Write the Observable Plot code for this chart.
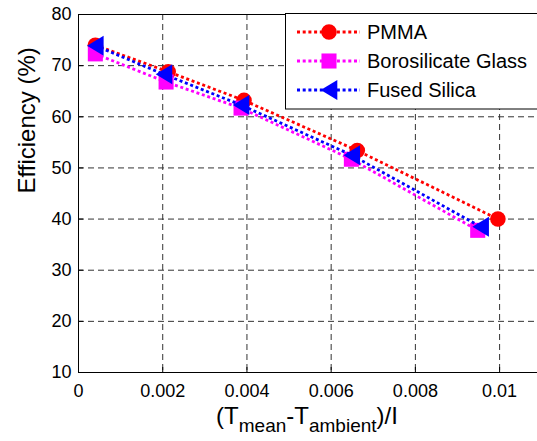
<!DOCTYPE html>
<html>
<head>
<meta charset="utf-8">
<script src="https://cdn.jsdelivr.net/npm/d3@7"></script>
<script src="https://cdn.jsdelivr.net/npm/@observablehq/plot@0.6"></script>
<style>
  html, body { margin: 0; padding: 0; background: white; }
  #chart { position: relative; width: 537px; height: 441px; }
  svg { font-family: "Liberation Sans", Arial, sans-serif; }
</style>
</head>
<body>
<div id="chart"></div>
<script>
// ---- data ----
const seriesNames = ["PMMA", "Borosilicate Glass", "Fused Silica"];
const seriesColors = ["#ff0000", "#ff00ff", "#0000ff"];

const pmmaX  = [0.0004, 0.00213, 0.00393, 0.00662, 0.00996];
const pmmaY  = [74.0, 68.8, 63.2, 53.4, 40.0];
const boroX  = [0.0004, 0.00208, 0.00386, 0.00648, 0.00948];
const boroY  = [72.3, 66.8, 61.7, 51.7, 37.8];
const fusedX = [0.0004, 0.00203, 0.00386, 0.00649, 0.00955];
const fusedY = [73.9, 68.3, 62.3, 52.5, 38.5];

const xTicks = [0, 0.002, 0.004, 0.006, 0.008, 0.01];
const xTickLabels = ["0", "0.002", "0.004", "0.006", "0.008", "0.01"];
const yTicks = [10, 20, 30, 40, 50, 60, 70, 80];
const xGrid = [0.002, 0.004, 0.006, 0.008, 0.01];
const yGrid = [20, 30, 40, 50, 60, 70];

const yLabel = "Efficiency (%)";

// ---- layout ----
const W = 537, H = 441;
const mL = 78, mR = 0, mT = 14, mB = 69;
const innerW = W - mL - mR, innerH = H - mT - mB;

// left-pointing triangle symbol (MATLAB '<')
const triangleLeft = {
  draw(ctx, size) {
    const r = Math.sqrt(size / Math.PI);
    const w = 1.95 * r, h = 2.35 * r;
    ctx.moveTo(-w / 2, 0);
    ctx.lineTo(w / 2, -h / 2);
    ctx.lineTo(w / 2, h / 2);
    ctx.closePath();
  }
};
const symbols = ["circle", "square", triangleLeft];
const radii = [7.8, 8.5, 8.5];

const toRows = (xs, ys) => xs.map((v, i) => ({x: v, y: ys[i]}));
const seriesRows = [toRows(pmmaX, pmmaY), toRows(boroX, boroY), toRows(fusedX, fusedY)];

const lineStyle = {strokeWidth: 2.8, strokeDasharray: "3,2.7"};

const marks = [
  Plot.ruleX(xGrid, {stroke: "#333", strokeWidth: 1, strokeDasharray: "6,4"}),
  Plot.ruleY(yGrid, {stroke: "#333", strokeWidth: 1, strokeDasharray: "6,4"}),
  Plot.tickX(xTicks, {x: d => d, stroke: "black", insetTop: innerH - 5}),
  Plot.tickY(yTicks, {y: d => d, stroke: "black", insetRight: innerW - 5}),
  Plot.ruleX([xTicks[0]], {stroke: "black"}),
  Plot.ruleY([yTicks[0], yTicks[yTicks.length - 1]], {stroke: "black"}),
  Plot.axisX(xTicks, {tickSize: 0, tickPadding: 12, fontSize: 18, label: null,
    tickFormat: d => xTickLabels[xTicks.indexOf(d)]}),
  Plot.axisY(yTicks, {tickSize: 0, tickPadding: 7, fontSize: 18, label: null}),
  Plot.text([yLabel], {text: d => d, frameAnchor: "left", dx: -51, rotate: -90, fontSize: 24})
];
seriesRows.forEach((rows, i) => {
  marks.push(Plot.line(rows, {x: "x", y: "y", stroke: seriesColors[i], ...lineStyle, className: "series-line"}));
  marks.push(Plot.dot(rows, {x: "x", y: "y", symbol: symbols[i], r: radii[i], fill: seriesColors[i], stroke: "none"}));
});

const svg = Plot.plot({
  width: W, height: H,
  marginLeft: mL, marginRight: mR, marginTop: mT, marginBottom: mB,
  x: {domain: [0, 0.0109]},
  y: {domain: [10, 80]},
  style: {fontFamily: "'Liberation Sans', Arial, sans-serif", background: "white", color: "black", overflow: "visible"},
  marks
});

const s = d3.select(svg);
// make sure dotted style is applied to series paths
s.selectAll("g[aria-label='line'] path")
  .attr("stroke-dasharray", lineStyle.strokeDasharray)
  .attr("stroke-width", lineStyle.strokeWidth)
  .attr("stroke-linecap", "butt");

// ---- x label with subscripts ----
const xl = s.append("text")
  .attr("x", 307).attr("y", 424)
  .attr("text-anchor", "middle")
  .attr("font-family", "'Liberation Sans', Arial, sans-serif")
  .attr("font-size", 24).attr("fill", "black");
xl.append("tspan").text("(T");
xl.append("tspan").attr("font-size", 19).attr("dy", 8).text("mean");
xl.append("tspan").attr("dy", -8).text("-T");
xl.append("tspan").attr("font-size", 19).attr("dy", 8).text("ambient");
xl.append("tspan").attr("dy", -8).text(")/I");

// ---- legend ----
const lg = s.append("g").attr("font-family", "'Liberation Sans', Arial, sans-serif")
  .attr("text-anchor", "start");
lg.append("rect").attr("x", 285.5).attr("y", 13.5).attr("width", 300).attr("height", 95.5)
  .attr("fill", "white").attr("stroke", "black").attr("stroke-width", 1);
const rowY = [32, 61, 90];
seriesNames.forEach((name, i) => {
  const y = rowY[i];
  lg.append("line").attr("x1", 297).attr("x2", 360).attr("y1", y).attr("y2", y)
    .attr("stroke", seriesColors[i]).attr("stroke-width", lineStyle.strokeWidth)
    .attr("stroke-dasharray", lineStyle.strokeDasharray);
  const sym = typeof symbols[i] === "string"
    ? (symbols[i] === "circle" ? d3.symbolCircle : d3.symbolSquare) : symbols[i];
  lg.append("path").attr("transform", `translate(329,${y})`)
    .attr("d", d3.symbol(sym, Math.PI * radii[i] * radii[i])())
    .attr("fill", seriesColors[i]);
  lg.append("text").attr("x", 367).attr("y", y).attr("dy", "0.35em")
    .attr("text-anchor", "start")
    .attr("font-size", 20).attr("fill", "black").text(name);
});

document.getElementById("chart").appendChild(svg);
</script>
</body>
</html>
